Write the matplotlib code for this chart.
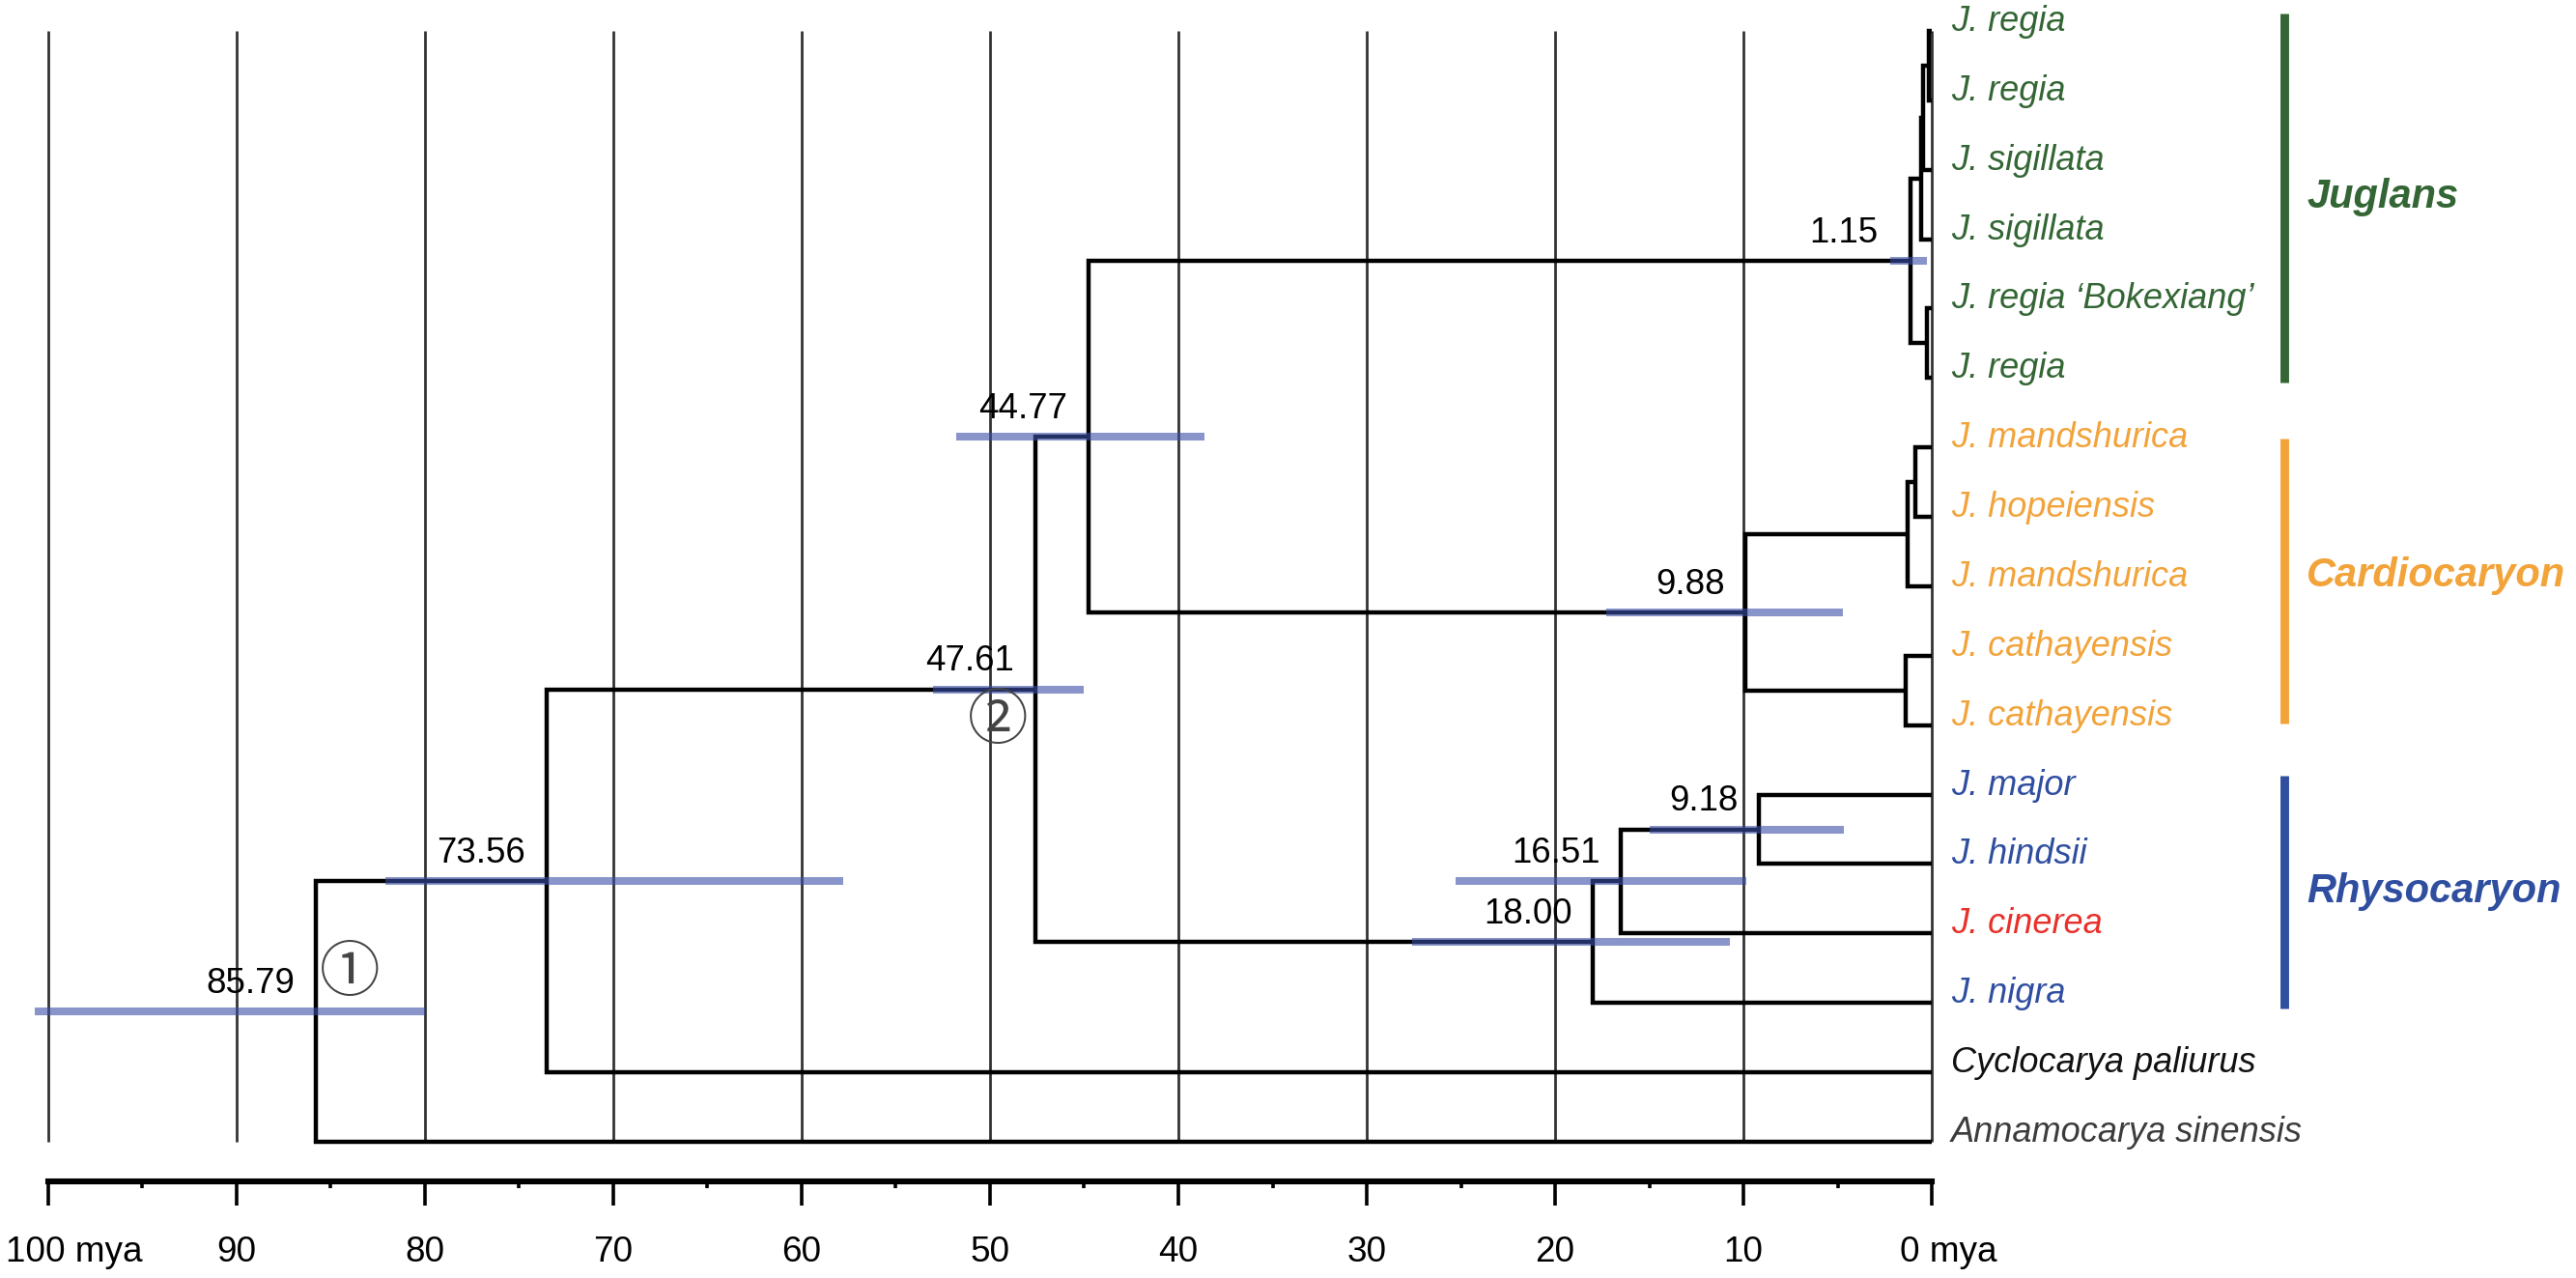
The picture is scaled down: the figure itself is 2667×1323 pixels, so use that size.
import matplotlib
matplotlib.use("Agg")
import matplotlib.pyplot as plt

plt.rcParams["font.family"] = ["Liberation Sans", "DejaVu Sans"]

# Data
leaf_names = [
    "J. regia", "J. regia", "J. sigillata", "J. sigillata",
    "J. regia \u2018Bokexiang\u2019", "J. regia",
    "J. mandshurica", "J. hopeiensis", "J. mandshurica",
    "J. cathayensis", "J. cathayensis",
    "J. major", "J. hindsii", "J. cinerea", "J. nigra",
    "Cyclocarya paliurus", "Annamocarya sinensis",
]
GREEN, ORANGE, BLUE, RED = "#336634", "#F2A33A", "#2F4EA0", "#E8302A"
leaf_colors = [GREEN] * 6 + [ORANGE] * 5 + [BLUE, BLUE, RED, BLUE] + ["#111111", "#3c3c3c"]

# internal nodes: age (mya) and children (int = leaf index, str = node)
node_age = {
    "j01": 0.17, "j012": 0.46, "j0123": 0.55, "j45": 0.26, "juglans": 1.15,
    "c67": 0.87, "c678": 1.30, "c910": 1.38, "cardio": 9.88,
    "sect": 44.77, "r918": 9.18, "r1651": 16.51, "r1800": 18.00,
    "n4761": 47.61, "n7356": 73.56, "root": 85.79,
}
node_children = {
    "j01": (0, 1), "j012": ("j01", 2), "j0123": ("j012", 3), "j45": (4, 5),
    "juglans": ("j0123", "j45"),
    "c67": (6, 7), "c678": ("c67", 8), "c910": (9, 10), "cardio": ("c678", "c910"),
    "sect": ("juglans", "cardio"),
    "r918": (11, 12), "r1651": ("r918", 13), "r1800": ("r1651", 14),
    "n4761": ("sect", "r1800"), "n7356": ("n4761", 15), "root": ("n7356", 16),
}

# labelled nodes with 95% HPD intervals
hpd_nodes = ["root", "n7356", "n4761", "sect", "juglans", "cardio", "r918", "r1651", "r1800"]
hpd_labels = ["85.79", "73.56", "47.61", "44.77", "1.15", "9.88", "9.18", "16.51", "18.00"]
hpd_low = [80.0, 57.8, 45.0, 38.6, 0.26, 4.7, 4.65, 9.85, 10.7]
hpd_high = [100.7, 82.1, 53.0, 51.8, 2.2, 17.3, 15.0, 25.3, 27.6]

groups = ["Juglans", "Cardiocaryon", "Rhysocaryon"]
group_colors = [GREEN, ORANGE, BLUE]
group_spans = [(-0.25, 5.06), (5.87, 9.98), (10.73, 14.08)]
group_label_y = [2.39, 7.85, 12.4]

major_ticks = list(range(0, 101, 10))
minor_ticks = list(range(5, 100, 10))
tick_text = ["0 mya", "10", "20", "30", "40", "50", "60", "70", "80", "90", "100 mya"]

circle_marks = ["\u2460", "\u2461"]
circle_pos = [(84.0, 13.58), (49.6, 9.95)]


def y_of(c):
    if isinstance(c, int):
        return float(c)
    a, b = node_children[c]
    return (y_of(a) + y_of(b)) / 2


def age_of(c):
    return 0.0 if isinstance(c, int) else node_age[c]


fig = plt.figure(figsize=(13.335, 6.615), dpi=200)
ax = fig.add_axes([0, 0, 1, 1])
ax.set_xlim(102.564, -34.205)
ax.set_ylim(17.962, -0.445)

# time grid
ax.vlines(major_ticks, 0, 16, color="#333333", lw=1.0, zorder=1)

# branches
for name, (a, b) in node_children.items():
    t = node_age[name]
    xs = [age_of(a), t, t, age_of(b)]
    ys = [y_of(a), y_of(a), y_of(b), y_of(b)]
    ax.plot(xs, ys, color="black", lw=1.6, solid_joinstyle="miter",
            solid_capstyle="butt", zorder=2)

# HPD bars and node ages
for n, lab, lo, hi in zip(hpd_nodes, hpd_labels, hpd_low, hpd_high):
    y = y_of(n)
    ax.hlines(y, lo, hi, color="#3a4fa8", alpha=0.6, lw=2.9, zorder=3)
    gap = 1.7 if n == "juglans" else 1.1
    ax.text(node_age[n] + gap, y - 0.4, lab, ha="right", va="center",
            fontsize=13.2, color="black", zorder=4)

# leaf labels
for i, (nm, col) in enumerate(zip(leaf_names, leaf_colors)):
    ax.text(-1.03, i, nm, ha="left", va="baseline", fontsize=13,
            style="italic", color=col)

# group brackets
for g, col, (y0, y1), ly in zip(groups, group_colors, group_spans, group_label_y):
    ax.vlines(-18.72, y0, y1, color=col, lw=3.2)
    ax.text(-19.9, ly, g, ha="left", va="center", fontsize=15,
            style="italic", weight="bold", color=col)

# circled node numbers
for m, (cx, cy) in zip(circle_marks, circle_pos):
    ax.text(cx, cy, m, ha="center", va="center", fontsize=22.5, color="#444444",
            family=["Noto Sans CJK SC", "DejaVu Sans"], zorder=4)

# time axis
for s in ["top", "left", "right"]:
    ax.spines[s].set_visible(False)
ax.spines["bottom"].set_position(("data", 16.57))
ax.spines["bottom"].set_bounds(0, 100)
ax.spines["bottom"].set_linewidth(2.2)
ax.set_xticks(major_ticks)
ax.set_xticks(minor_ticks, minor=True)
ax.tick_params(axis="x", which="major", direction="out", length=9, width=1.3,
               labelbottom=False)
ax.tick_params(axis="x", which="minor", direction="out", length=2.5, width=1.3)
ax.set_yticks([])

for t, lab in zip(major_ticks, tick_text):
    if t == 100:
        ax.text(102.28, 17.6, lab, ha="left", va="center", fontsize=13.3)
    elif t == 0:
        ax.text(1.69, 17.6, lab, ha="left", va="center", fontsize=13.3)
    else:
        ax.text(t, 17.6, lab, ha="center", va="center", fontsize=13.3)

fig.savefig("out.png", dpi=200)
